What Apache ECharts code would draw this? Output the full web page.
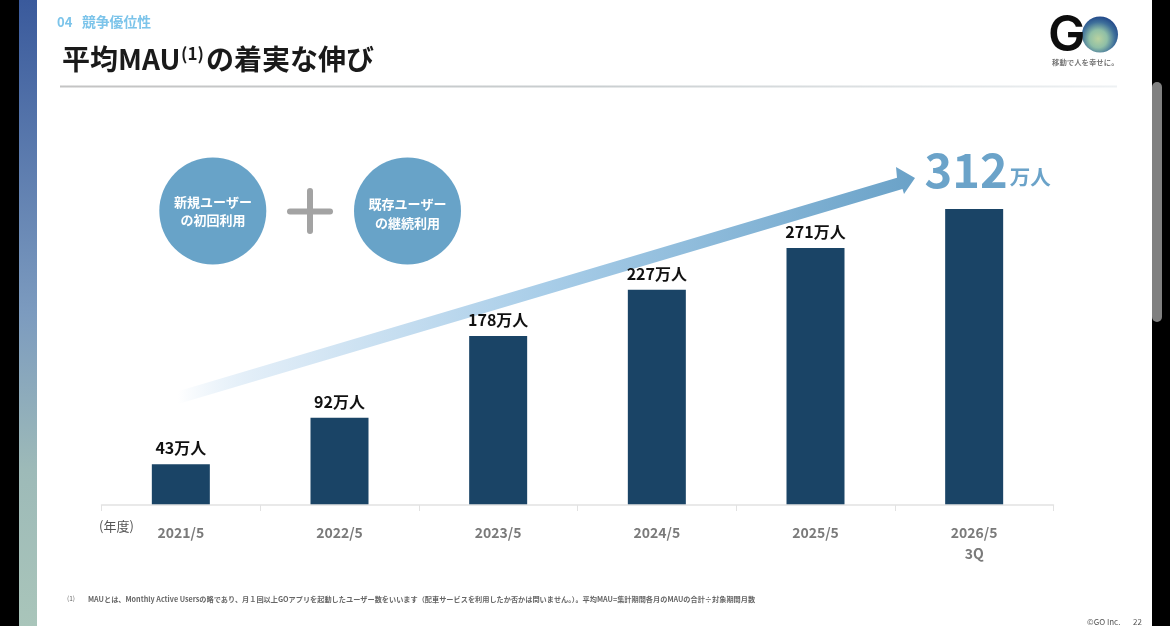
<!DOCTYPE html>
<html><head><meta charset="utf-8">
<style>html,body{margin:0;padding:0;background:#000}#c{width:1170px;height:626px;filter:blur(0.35px)}</style>
<script src="https://cdn.jsdelivr.net/npm/echarts@6/dist/echarts.min.js"></script>
</head><body><div id="c"></div>
<script>
var categories = ['2021/5','2022/5','2023/5','2024/5','2025/5','2026/5\n3Q'];
var mauValues = [43,92,178,227,271,312];
var unitLabel = '万人';
var FONT = '"Noto Sans CJK JP","Noto Sans",sans-serif';
var chart = echarts.init(document.getElementById('c'), null, {renderer:'canvas'});
function txt(x,y,t,size,color,weight,align,z,font){
  return {type:'text',x:x,y:y,z:z||5,silent:true,style:{text:t,fontSize:size,fill:color,fontWeight:weight||'normal',fontFamily:font||FONT,align:align||'left',verticalAlign:'middle'}};
}
function circ(cx,cy,r,fill,z){return {type:'circle',shape:{cx:cx,cy:cy,r:r},style:{fill:fill},z:z||2,silent:true};}
function rect(x,y,w,h,fill,z,rad){return {type:'rect',shape:{x:x,y:y,width:w,height:h,r:rad||0},style:{fill:fill},z:z||1,silent:true};}
var g = [
  rect(37,0,1115,626,'#ffffff',-1),
  rect(19,0,18,626,new echarts.graphic.LinearGradient(0,0,0,1,[{offset:0,color:'#3a5a9c'},{offset:.5,color:'#7c9bbf'},{offset:.75,color:'#9dbab8'},{offset:1,color:'#a9c5ba'}]),-1),
  rect(1152,82,10,240,'#808080',1,5),
  txt(57,22,'04',13,'#7cc4ea','bold'),
  txt(82,22,'競争優位性',13.8,'#7cc4ea','bold'),
  txt(62,59,'平均MAU',28,'#1a1a1a','bold'),
  txt(181,54,'(1)',17,'#1a1a1a','bold'),
  txt(206,59,'の着実な伸び',28,'#1a1a1a','bold'),
  {type:'rect',shape:{x:60,y:85.5,width:1057,height:2},style:{fill:new echarts.graphic.LinearGradient(0,0,1,0,[{offset:0,color:'#c4c4c4'},{offset:.5,color:'#c9ced0'},{offset:1,color:'#eef1f3'}])},z:1,silent:true},
  {type:'circle',shape:{cx:1100,cy:34.5,r:18},z:2,silent:true,style:{fill:new echarts.graphic.RadialGradient(0.45,0.62,0.62,[{offset:0,color:'#b9d2a0'},{offset:.4,color:'#8fbfa6'},{offset:.75,color:'#3e6f9a'},{offset:1,color:'#234a8a'}])}},
  txt(1048,36,'G',50,'#0d0d0d','600','left',5,'Inter'),
  txt(1052,62,'移動で人を幸せに。',7.4,'#777777','bold'),
  circ(212.8,211,53.5,'#68a3c8'),
  circ(407.5,211,53.5,'#68a3c8'),
  txt(213,202,'新規ユーザー',13,'#ffffff','bold','center'),
  txt(213,220.5,'の初回利用',13,'#ffffff','bold','center'),
  txt(407.5,204,'既存ユーザー',13,'#ffffff','bold','center'),
  txt(407.5,223.5,'の継続利用',13,'#ffffff','bold','center'),
  rect(287,208.5,46,6,'#a3a3a3',2,3),
  rect(307,188,6,46,'#a3a3a3',2,3),
  {type:'polygon',z:1,silent:true,shape:{points:[[178,391.2],[897,177.7],[896,167],[915,178],[904,194],[902.5,189],[178,404]]},
   style:{fill:new echarts.graphic.LinearGradient(0,0,1,0,[{offset:0,color:'rgba(205,226,243,0)'},{offset:.12,color:'#dfecf7'},{offset:.5,color:'#a8cde8'},{offset:1,color:'#6aa2c8'}])}},
  txt(99,526,'(年度)',13,'#555555','normal'),
  txt(67,599,'(1)',6.5,'#666666'),
  txt(88,599,'MAUとは、Monthly Active Usersの略であり、月１回以上GOアプリを起動したユーザー数をいいます（配車サービスを利用したか否かは問いません。）。平均MAU=集計期間各月のMAUの合計÷対象期間月数',7.18,'#666666','bold'),
  txt(1087,622,'©GO Inc.',8,'#555555'),
  txt(1133,622,'22',8,'#555555')
];
chart.setOption({
  animation:false,
  backgroundColor:'transparent',
  graphic:{elements:g},
  grid:{left:101.5,right:116.5,top:125.5,height:379.5},
  xAxis:{type:'category',data:categories,z:4,
    axisLine:{show:true,lineStyle:{color:'#e2e2e2',width:1.5}},
    axisTick:{show:true,alignWithLabel:false,length:6,lineStyle:{color:'#e2e2e2'}},
    axisLabel:{show:true,margin:17,fontSize:14,fontWeight:'bold',color:'#7a7a7a',fontFamily:FONT,lineHeight:21}},
  yAxis:{type:'value',min:0,max:400,show:false,splitLine:{show:false}},
  series:[{type:'bar',data:mauValues.map(function(v,i){
      var last=i===mauValues.length-1;
      return {value:v,label:last?{distance:15.5,offset:[13.5,0],formatter:'{a|'+v+'}{b|'+unitLabel+'}',rich:{
        a:{fontSize:47,fontWeight:'bold',color:'#6ba3c9',fontFamily:FONT},
        b:{fontSize:20.5,fontWeight:'bold',color:'#6ba3c9',fontFamily:FONT,verticalAlign:'bottom',padding:[0,0,6,2]}}}:undefined};
    }),
    barWidth:58,z:3,
    itemStyle:{color:'#1a4466'},
    label:{show:true,position:'top',distance:8,fontSize:16,fontWeight:'bold',color:'#111111',fontFamily:FONT,
      formatter:function(p){return p.value+unitLabel;}}
  }]
});
</script></body></html>
